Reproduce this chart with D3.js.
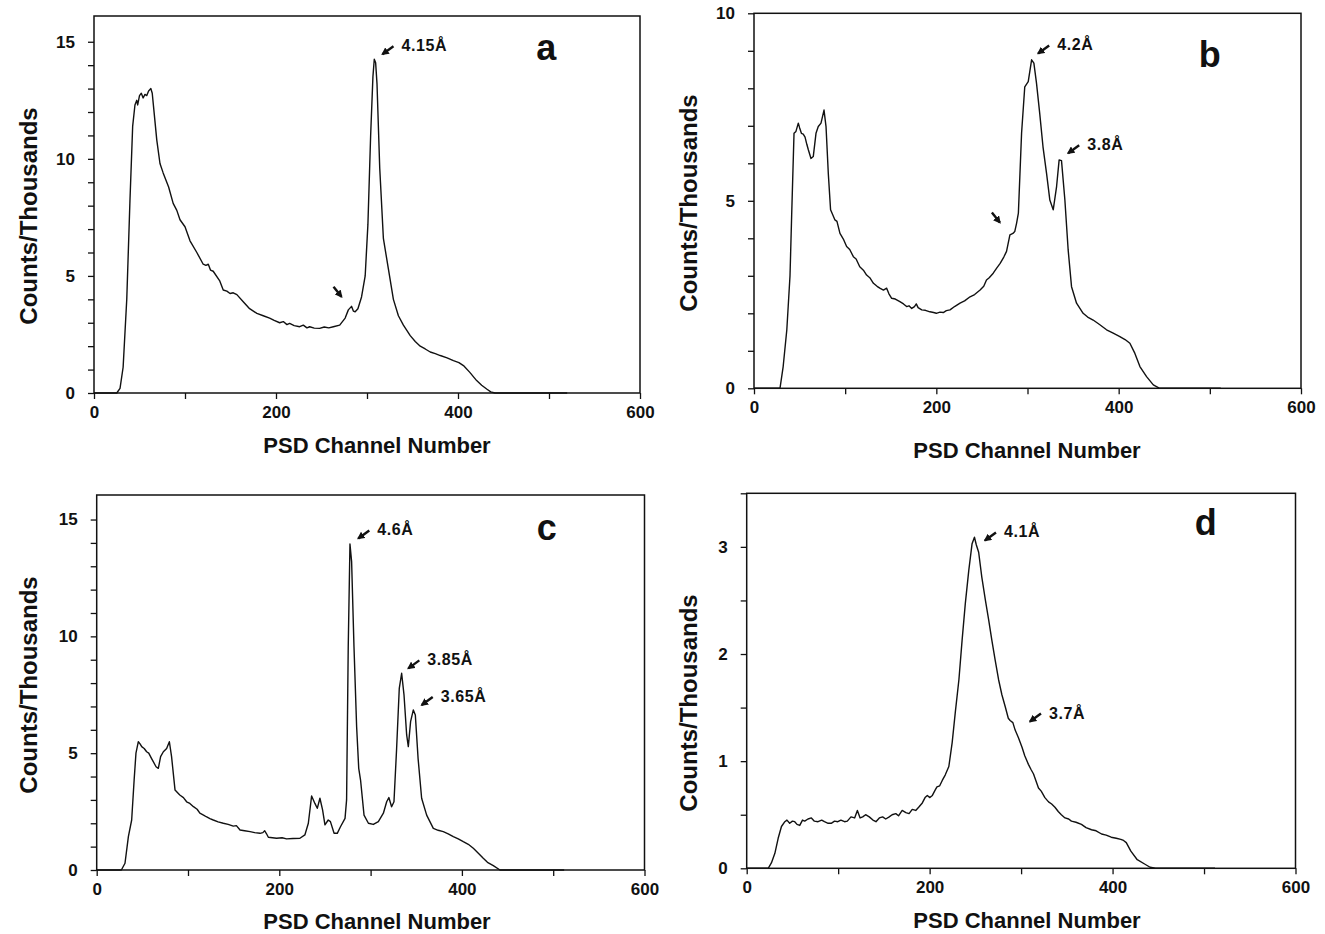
<!DOCTYPE html>
<html>
<head>
<meta charset="utf-8">
<script src="https://cdn.jsdelivr.net/npm/d3@7/dist/d3.min.js"></script>
<style>
  body { margin: 0; background: #fff; }
  text { font-family: "Liberation Sans", Arial, Helvetica, sans-serif; font-weight: bold; fill: #111; }
</style>
</head>
<body>
<script>
// ---- data (channel, counts in thousands) ----
const chA = [0,25,28.6,32,36,39.5,42.5,45,47,48,50,52,54,56,58,60,62.5,64,65,69,72.5,76,82,87,91,94.5,100,105.5,113,120,123,125.6,128,131,138,142,146,149.5,153,157,164,171,179,186,193,198,204,208,212,215,220,226,230,234,237,242,248,253,258,263,270,276,279.5,283,285,287,290,294,298,301,304,306.5,308,309.5,311,314,318,323.5,329,334.5,340,347.5,353,358.5,364,369.5,375,380.5,388,395,401,406,413,420.5,426,431.5,436,440.5,520];
const cntA = [0,0,0.2,1.1,4.0,8.2,11.4,12.3,12.5,12.3,12.7,12.8,12.6,12.75,12.7,12.9,13.0,12.8,12.4,10.8,9.8,9.4,8.8,8.1,7.8,7.4,7.1,6.5,6.0,5.5,5.45,5.5,5.25,5.2,4.8,4.4,4.35,4.25,4.28,4.2,3.9,3.6,3.4,3.3,3.2,3.1,3.0,3.05,2.92,2.97,2.88,2.83,2.9,2.78,2.83,2.77,2.76,2.82,2.78,2.83,2.9,3.2,3.55,3.7,3.5,3.47,3.6,4.1,5.0,7.2,11.0,13.5,14.25,14.1,13.2,9.6,6.6,5.3,4.0,3.3,2.9,2.45,2.2,2.0,1.88,1.75,1.68,1.6,1.5,1.38,1.3,1.17,0.88,0.53,0.33,0.17,0.05,0,0];

const chB = [0,28.5,32,36,39.5,41.3,43.9,46,48.6,50,52,54,56,58,59.6,62.5,65,68,70.5,73.5,76.8,79,81.5,84,86,88.8,91,94.3,98,101.6,105,109,112,116,120,123.5,127,131,135,138,142,145.5,148,151,155,160,164,167.4,170,173,176,178,180,184,188,193,197,200,204,207.6,211,215,220,226,231,237,242,248,252,255,258,262.4,266,270,274,277,280.7,284,286,288,290,293.5,297,300.8,304.5,307,309.9,313.4,317,320.9,324.5,328.2,331.9,334.7,337.3,341,344.6,348.3,353.8,361,366,372,379,386.7,394,401.3,407,412.3,417.8,423.3,430.6,438,445,512];
const cntB = [0,0,0.58,1.56,3.0,4.6,6.8,6.85,7.07,6.95,6.8,6.78,6.7,6.5,6.36,6.13,6.18,6.8,6.98,7.07,7.42,6.98,5.73,4.76,4.65,4.49,4.45,4.13,3.98,3.78,3.7,3.51,3.45,3.24,3.15,3.02,2.95,2.8,2.72,2.67,2.62,2.67,2.52,2.4,2.38,2.31,2.25,2.18,2.2,2.13,2.18,2.25,2.15,2.09,2.08,2.04,2.02,2.0,2.03,2.02,2.07,2.09,2.18,2.27,2.33,2.44,2.5,2.62,2.72,2.89,2.95,3.07,3.2,3.33,3.5,3.65,4.09,4.13,4.18,4.4,4.67,6.8,8.04,8.18,8.76,8.67,8.13,7.33,6.44,5.73,5.02,4.76,5.38,6.09,6.07,5.02,3.69,2.71,2.27,2.0,1.9,1.82,1.7,1.56,1.47,1.38,1.3,1.2,0.93,0.58,0.31,0.09,0,0];

const chC = [0,27,31,34.7,38.3,41,43,45.6,47.5,49.3,52,54.7,57,60,65,67.5,70,73,76.6,79.6,82,85.8,91,95,98.5,102,106,110,113,117,120,124,127.7,133,138.7,144,149.6,153,157,162,168,173,178.8,182,184,186,188,197,203,208,215,222.6,228,231.8,235.4,239,241.6,244.5,247.4,250,253.6,256,260,263.5,267,272,273.7,275.5,277.4,279.2,281.8,284.7,287,289,292.8,297.6,303,308.5,314,317.6,320,323,325.6,328.5,331.4,334,336.6,339.5,341.3,343.8,346.8,349,352,355.9,361.4,368.7,374,379.6,385,390.6,396,401.5,407,412.5,418,423.4,428,434.4,441.7,512];
const cntC = [0,0,0.29,1.43,2.14,3.85,5.0,5.49,5.4,5.28,5.2,5.06,5.0,4.78,4.42,4.35,4.85,5.06,5.2,5.49,4.85,3.42,3.21,3.1,2.92,2.85,2.71,2.6,2.43,2.35,2.28,2.2,2.14,2.06,2.0,1.95,1.88,1.9,1.71,1.68,1.64,1.6,1.57,1.6,1.68,1.55,1.4,1.36,1.38,1.33,1.35,1.36,1.5,2.0,3.17,2.85,2.64,3.07,2.57,1.93,2.14,2.07,1.57,1.57,1.85,2.21,3.0,9.56,13.95,13.2,9.56,6.13,4.35,3.85,2.35,2.0,1.95,2.07,2.43,2.92,3.1,2.71,2.92,5.2,7.77,8.42,7.49,5.78,5.28,6.35,6.85,6.63,4.78,3.07,2.35,1.78,1.7,1.64,1.55,1.43,1.33,1.21,1.1,0.93,0.72,0.5,0.33,0.19,0,0];

const chD = [0,23.5,27,30.8,34.4,38,41.7,44,47,50,52.5,55,58,61,63.4,67,70.7,74,78,82,85,89,92.4,96,99.6,103,107,110,114,118,121,124,126.8,130,134,138,141.3,145,148.6,152,155.8,159,163,166,170,174,177.5,181,184.8,188,192,195,197.5,200,203,206,208,211,213.8,217,221,224.6,228,232,235.5,239,242.8,246.4,249,251,253.6,257,261,264.5,268,271.7,275.4,279,282.6,286,288,291,293.5,297,301,304,308,311,313.6,319,322,326,330,333.4,337,340.6,344,348,352,355,360,366,371,377,382,388,393,398.5,404,409,412,415,420,427,435,441,447,512];
const cntD = [0,0,0.05,0.14,0.28,0.39,0.435,0.45,0.42,0.44,0.435,0.41,0.4,0.45,0.44,0.46,0.47,0.44,0.435,0.45,0.435,0.42,0.42,0.44,0.435,0.45,0.435,0.44,0.48,0.47,0.54,0.47,0.48,0.5,0.48,0.45,0.435,0.47,0.48,0.46,0.48,0.5,0.51,0.49,0.54,0.52,0.51,0.55,0.54,0.57,0.61,0.66,0.68,0.66,0.68,0.73,0.76,0.77,0.82,0.87,0.95,1.17,1.45,1.76,2.13,2.47,2.78,3.03,3.09,3.02,2.95,2.72,2.5,2.32,2.13,1.94,1.76,1.62,1.51,1.4,1.38,1.36,1.29,1.22,1.13,1.05,0.97,0.92,0.88,0.75,0.72,0.66,0.62,0.6,0.57,0.53,0.5,0.47,0.46,0.44,0.43,0.41,0.38,0.36,0.35,0.32,0.31,0.29,0.28,0.27,0.26,0.24,0.16,0.08,0.04,0.01,0,0];

// tick values / labels
const xTicks = [0, 100, 200, 300, 400, 500, 600];
const xLabels = [0, 200, 400, 600];
const yTicksBig = d3.range(0, 16, 1);          // panels a, c
const yLabelsBig = [0, 5, 10, 15];
const yTicksB = d3.range(0, 11, 1);            // panel b
const yLabelsB = [0, 5, 10];
const yTicksD = d3.range(0, 3.51, 0.5);        // panel d
const yLabelsD = [0, 1, 2, 3];

// peak annotations: label text, arrow head (channel, counts)
const notesA = [{ t: '4.15Å', ch: 317, v: 14.47 }, { t: '', ch: 272, v: 4.11 }];
const notesB = [{ t: '4.2Å', ch: 311.7, v: 8.93 }, { t: '3.8Å', ch: 344.6, v: 6.27 }, { t: '', ch: 269.7, v: 4.42 }];
const notesC = [{ t: '4.6Å', ch: 286.5, v: 14.19 }, { t: '3.85Å', ch: 341.3, v: 8.63 }, { t: '3.65Å', ch: 356, v: 7.06 }];
const notesD = [{ t: '4.1Å', ch: 260.5, v: 3.06 }, { t: '3.7Å', ch: 309.7, v: 1.37 }];

const xTitle = 'PSD Channel Number';
const yTitle = 'Counts/Thousands';

// layout of each panel
const panels = [
  { letter: 'a', ch: chA, cnt: cntA, left: 94, right: 640, bottom: 393, top: 16, ymax: 16.1,
    yTicks: yTicksBig, yLabels: yLabelsBig, notes: notesA, letterPos: [497, 14.2],
    xTitlePos: [377, 453], yTitlePos: [28, 216] },
  { letter: 'b', ch: chB, cnt: cntB, left: 754, right: 1301, bottom: 388.3, top: 13.3, ymax: 10,
    yTicks: yTicksB, yLabels: yLabelsB, notes: notesB, letterPos: [500, 8.57],
    xTitlePos: [1027, 458], yTitlePos: [688, 203] },
  { letter: 'c', ch: chC, cnt: cntC, left: 96.7, right: 644.5, bottom: 870, top: 495, ymax: 16.05,
    yTicks: yTicksBig, yLabels: yLabelsBig, notes: notesC, letterPos: [493, 14.12],
    xTitlePos: [377, 929], yTitlePos: [28, 685] },
  { letter: 'd', ch: chD, cnt: cntD, left: 746.7, right: 1295.5, bottom: 868.3, top: 493.3, ymax: 3.5,
    yTicks: yTicksD, yLabels: yLabelsD, notes: notesD, letterPos: [502, 3.11],
    xTitlePos: [1027, 928], yTitlePos: [688, 703] }
];

const svg = d3.select('body').append('svg')
  .attr('width', 1325).attr('height', 934)
  .style('background', '#fff');

svg.append('defs').append('marker')
  .attr('id', 'head')
  .attr('viewBox', '0 0 10 10')
  .attr('refX', 8).attr('refY', 5)
  .attr('markerWidth', 3.2).attr('markerHeight', 3.2)
  .attr('orient', 'auto')
  .append('path').attr('d', 'M0,0L10,5L0,10z').attr('fill', '#111');

panels.forEach(p => {
  const x = d3.scaleLinear().domain([0, 600]).range([p.left, p.right]);
  const y = d3.scaleLinear().domain([0, p.ymax]).range([p.bottom, p.top]);
  const g = svg.append('g');

  // frame
  g.append('rect')
    .attr('x', p.left).attr('y', p.top)
    .attr('width', p.right - p.left).attr('height', p.bottom - p.top)
    .attr('fill', 'none').attr('stroke', '#111').attr('stroke-width', 1.5);

  // axes
  const ax = g.append('g').attr('transform', `translate(0,${p.bottom})`)
    .call(d3.axisBottom(x).tickValues(xTicks).tickSize(6).tickSizeOuter(0).tickPadding(7)
      .tickFormat(d => xLabels.includes(d) ? d : ''));
  const ay = g.append('g').attr('transform', `translate(${p.left},0)`)
    .call(d3.axisLeft(y).tickValues(p.yTicks).tickSize(6).tickSizeOuter(0).tickPadding(13)
      .tickFormat(d => p.yLabels.includes(d) ? d : ''));
  [ax, ay].forEach(a => {
    a.select('.domain').remove();
    a.selectAll('line').attr('stroke', '#111').attr('stroke-width', 1.3);
    a.selectAll('text').style('font-size', '17px').attr('fill', '#111');
  });

  // spectrum
  const line = d3.line().x((d, i) => x(p.ch[i])).y(d => y(d));
  g.append('path').datum(p.cnt)
    .attr('d', line)
    .attr('fill', 'none').attr('stroke', '#111').attr('stroke-width', 1.4)
    .attr('stroke-linejoin', 'round');

  // titles
  g.append('text').text(xTitle)
    .attr('x', p.xTitlePos[0]).attr('y', p.xTitlePos[1])
    .attr('text-anchor', 'middle').style('font-size', '22px');
  g.append('text').text(yTitle)
    .attr('transform', `translate(${p.yTitlePos[0]},${p.yTitlePos[1]}) rotate(-90)`)
    .attr('text-anchor', 'middle').attr('dominant-baseline', 'central')
    .style('font-size', '24px');

  // panel letter
  g.append('text').text(p.letter)
    .attr('x', x(p.letterPos[0])).attr('y', y(p.letterPos[1]))
    .attr('text-anchor', 'middle').style('font-size', '36px');

  // peak arrows and labels
  p.notes.forEach(n => {
    const hx = x(n.ch), hy = y(n.v);
    const down = n.t === '';
    const tx = down ? hx - 8 : hx + 11;
    const ty = down ? hy - 10 : hy - 8;
    g.append('line')
      .attr('x1', tx).attr('y1', ty).attr('x2', hx).attr('y2', hy)
      .attr('stroke', '#111').attr('stroke-width', 2.4)
      .attr('marker-end', 'url(#head)');
    if (!down) {
      g.append('text').text(n.t)
        .attr('x', hx + 19).attr('y', hy - 3)
        .style('font-size', '16px').style('letter-spacing', '0.6px');
    }
  });
});
</script>
</body>
</html>
